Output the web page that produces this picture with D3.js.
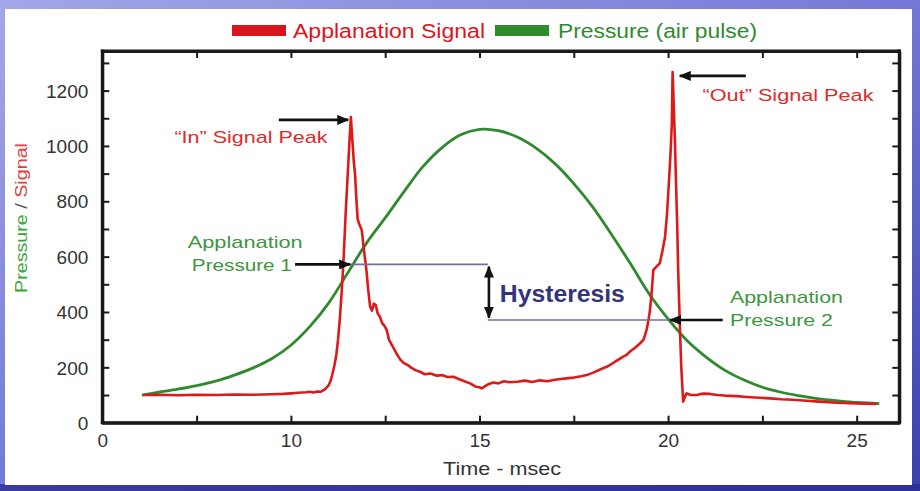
<!DOCTYPE html>
<html>
<head>
<meta charset="utf-8">
<script src="https://cdn.jsdelivr.net/npm/d3@7"></script>
<style>
  html, body { margin: 0; padding: 0; background: #fff; }
  svg { display: block; }
  text { font-family: "Liberation Sans", Arial, sans-serif; }
</style>
</head>
<body>
<svg id="chart" width="920" height="491"></svg>
<script>
// ---------------- DATA ----------------
const seriesNames = ["Applanation Signal", "Pressure (air pulse)"];

// Pressure (air pulse) – green
const pressureTime = [6.05, 6.5, 7.0, 7.5, 8.0, 8.5, 9.0, 9.5, 10.0, 10.5, 11.0, 11.5, 12.0, 12.5, 13.0, 13.5,
  14.0, 14.5, 15.0, 15.5, 16.0, 16.5, 17.0, 17.5, 18.0, 18.5, 19.0, 19.5, 20.0, 20.5, 21.0, 21.5, 22.0, 22.5,
  23.0, 23.5, 24.0, 24.5, 25.0, 25.6];
const pressureValue = [100, 110, 121, 134, 150, 172, 198, 232, 280, 347, 432, 540, 648, 740, 835, 925,
  993, 1040, 1060, 1055, 1032, 992, 936, 864, 780, 680, 575, 465, 375, 297, 238, 190, 155, 128,
  110, 97, 86, 79, 73, 69];

// Applanation Signal – red
const signalTime = [6.09, 6.5, 7.0, 7.5, 8.0, 8.5, 9.0, 9.5, 9.8, 10.0, 10.2, 10.4, 10.5, 10.6, 10.7, 10.8,
  10.9, 11.0, 11.05, 11.1, 11.15, 11.2, 11.25, 11.3, 11.35, 11.4, 11.45, 11.5, 11.55, 11.59, 11.63, 11.67,
  11.70, 11.74, 11.77, 11.82, 11.88, 11.94, 12.0, 12.05, 12.10, 12.15, 12.2, 12.25, 12.3, 12.36, 12.42,
  12.48, 12.54, 12.6, 12.66, 12.72, 12.8, 12.9, 13.0, 13.1, 13.2, 13.3, 13.42, 13.55, 13.7, 13.87, 14.0,
  14.15, 14.31, 14.45, 14.6, 14.75, 14.9, 15.0, 15.06, 15.15, 15.25, 15.37, 15.5, 15.65, 15.8, 16.0, 16.2,
  16.4, 16.6, 16.8, 16.96, 17.1, 17.3, 17.5, 17.7, 17.84, 18.0, 18.2, 18.37, 18.5, 18.65, 18.8, 18.9, 19.0,
  19.1, 19.2, 19.26, 19.35, 19.43, 19.48, 19.52, 19.57, 19.61, 19.7, 19.78, 19.85, 19.92, 19.97, 20.01,
  20.06, 20.10, 20.12, 20.15, 20.18, 20.21, 20.24, 20.27, 20.31, 20.35, 20.40, 20.45, 20.49, 20.6, 20.76,
  20.9, 21.11, 21.3, 21.5, 21.82, 22.0, 22.3, 22.7, 23.0, 23.3, 23.58, 24.0, 24.47, 25.0, 25.53];
const signalValue = [100, 101, 99, 101, 100, 102, 101, 103, 104, 106, 108, 110, 112, 109, 113, 112,
  120, 135, 150, 175, 205, 240, 300, 380, 480, 600, 750, 880, 1010, 1104, 1020, 940,
  900, 800, 735, 715, 695, 620, 555, 480, 420, 405, 430, 425, 395, 383, 360,
  350, 335, 300, 285, 270, 250, 228, 215, 208, 198, 190, 184, 175, 178, 170, 172,
  165, 166, 158, 150, 142, 130, 128, 124, 132, 140, 145, 142, 150, 146, 148, 152,
  147, 153, 150, 154, 157, 160, 163, 168, 172, 180, 192, 202, 212, 225, 238, 245, 258,
  268, 280, 287, 300, 335, 370, 407, 480, 552, 565, 576, 620, 672, 750, 841,
  960, 1082, 1267, 1150, 1022, 870, 721, 540, 359, 200, 76, 95, 106, 100, 100,
  105, 104, 100, 98, 96, 94, 91, 88, 85, 83, 80, 76, 72, 70, 68];

// Axes
const xTickValues = [5, 7.5, 10, 12.5, 15, 17.5, 20, 22.5, 25];
const xTickLabels = ["0", "", "10", "", "15", "", "20", "", "25"];
const yTickValues = [0, 100, 200, 300, 400, 500, 600, 700, 800, 900, 1000, 1100, 1200, 1300];
const yTickLabels = ["0", "", "200", "", "400", "", "600", "", "800", "", "1000", "", "1200", ""];

// Hysteresis levels (applanation pressure 1 and 2)
const hysteresisLevels = [572, 371];

// ---------------- DRAW ----------------
const svg = d3.select("#chart");
const W = 920, H = 491;

// slide background
const defs = svg.append("defs");
const bg = defs.append("linearGradient").attr("id", "bg")
  .attr("x1", "0").attr("y1", "0").attr("x2", "1").attr("y2", "1");
bg.append("stop").attr("offset", "0").attr("stop-color", "#a3a7e8");
bg.append("stop").attr("offset", "0.5").attr("stop-color", "#7479d6");
bg.append("stop").attr("offset", "1").attr("stop-color", "#3b3fae");
svg.append("rect").attr("width", W).attr("height", H).attr("fill", "url(#bg)");
const bgb = defs.append("linearGradient").attr("id", "bgb")
  .attr("x1", "0").attr("y1", "0").attr("x2", "1").attr("y2", "0");
bgb.append("stop").attr("offset", "0").attr("stop-color", "#3a3aa6");
bgb.append("stop").attr("offset", "1").attr("stop-color", "#2c2f9c");
svg.append("rect").attr("x", 0).attr("y", 484).attr("width", W).attr("height", 7).attr("fill", "url(#bgb)");
svg.append("rect").attr("x", 5).attr("y", 9).attr("width", 907).attr("height", 476).attr("fill", "#ffffff");

// arrow markers
defs.append("marker").attr("id", "arrow")
  .attr("viewBox", "0 0 12 10").attr("refX", 11).attr("refY", 5)
  .attr("markerWidth", 12).attr("markerHeight", 10)
  .attr("markerUnits", "userSpaceOnUse").attr("orient", "auto-start-reverse")
  .append("path").attr("d", "M0,0 L12,5 L0,10 Z").attr("fill", "#111");

const plot = { left: 102.3, right: 899.3, top: 51, bottom: 422.7 };
const x = d3.scaleLinear().domain([5, 26.13]).range([plot.left, plot.right]);
const y = d3.scaleLinear().domain([0, 1343]).range([plot.bottom, plot.top]);

const axisColor = "#1a1a1a";

// axes (ticks pointing inward)
const gx = svg.append("g").attr("transform", `translate(0,${plot.bottom})`)
  .call(d3.axisBottom(x).tickValues(xTickValues).tickSizeInner(-7).tickSizeOuter(0).tickPadding(11)
    .tickFormat((d, i) => xTickLabels[i]));
const gxt = svg.append("g").attr("transform", `translate(0,${plot.top})`)
  .call(d3.axisTop(x).tickValues(xTickValues).tickSizeInner(-7).tickSizeOuter(0).tickFormat(""));
const gy = svg.append("g").attr("transform", `translate(${plot.left},0)`)
  .call(d3.axisLeft(y).tickValues(yTickValues).tickSizeInner(-7).tickSizeOuter(0).tickPadding(14)
    .tickFormat((d, i) => yTickLabels[i]));
const gyr = svg.append("g").attr("transform", `translate(${plot.right},0)`)
  .call(d3.axisRight(y).tickValues(yTickValues).tickSizeInner(-7).tickSizeOuter(0).tickFormat(""));

[gx, gxt, gy, gyr].forEach(g => {
  g.select(".domain").attr("stroke", axisColor).attr("stroke-width", 3).attr("fill", "none");
  g.selectAll(".tick line").attr("stroke", axisColor).attr("stroke-width", 2);
  g.selectAll(".tick text").attr("fill", "#333").attr("font-size", 19)
    .attr("font-family", "'Liberation Sans', Arial, sans-serif");
});
gy.selectAll(".tick text").attr("dy", "0.35em");

// frame drawn as filled bars on top of the axes
const fw = 3;
const frameBars = [
  { x: plot.left - fw / 2, y: plot.top - fw / 2, w: plot.right - plot.left + fw, h: fw },
  { x: plot.left - fw / 2, y: plot.bottom - fw / 2, w: plot.right - plot.left + fw, h: fw },
  { x: plot.left - fw / 2, y: plot.top - fw / 2, w: fw, h: plot.bottom - plot.top + fw },
  { x: plot.right - fw / 2, y: plot.top - fw / 2, w: fw, h: plot.bottom - plot.top + fw }
];
svg.append("g").attr("class", "frame").selectAll("rect").data(frameBars).join("rect")
  .attr("x", d => d.x).attr("y", d => d.y).attr("width", d => d.w).attr("height", d => d.h)
  .attr("fill", axisColor);

// axis titles
svg.append("text").attr("x", 502).attr("y", 475).attr("text-anchor", "middle")
  .attr("font-size", 19).attr("fill", "#333").attr("textLength", 118)
  .attr("lengthAdjust", "spacingAndGlyphs").text("Time - msec");

const yt = svg.append("text").attr("transform", "translate(27,218) rotate(-90)")
  .attr("text-anchor", "middle").attr("font-size", 17).attr("textLength", 150)
  .attr("lengthAdjust", "spacingAndGlyphs");
yt.append("tspan").attr("fill", "#3aa53a").text("Pressure ");
yt.append("tspan").attr("fill", "#555").text("/ ");
yt.append("tspan").attr("fill", "#e04040").text("Signal");

// lines
const pressureData = pressureTime.map((t, i) => [t, pressureValue[i]]);
const signalData = signalTime.map((t, i) => [t, signalValue[i]]);

svg.append("path").datum(pressureData)
  .attr("d", d3.line().x(d => x(d[0])).y(d => y(d[1])).curve(d3.curveCatmullRom.alpha(0.5)))
  .attr("fill", "none").attr("stroke", "#2f8a2f").attr("stroke-width", 2.8)
  .attr("stroke-linejoin", "round");
svg.append("path").datum(signalData)
  .attr("d", d3.line().x(d => x(d[0])).y(d => y(d[1])))
  .attr("fill", "none").attr("stroke", "#dd1a1a").attr("stroke-width", 2.6)
  .attr("stroke-linejoin", "round");

// legend
const legend = [
  { name: seriesNames[0], color: "#d9141c", textColor: "#e0141a", sx: 232, tx: 293, tw: 192 },
  { name: seriesNames[1], color: "#2e8b2e", textColor: "#2e8b2e", sx: 495, tx: 558, tw: 199 }
];
legend.forEach(l => {
  svg.append("rect").attr("x", l.sx).attr("y", 25).attr("width", 54).attr("height", 11).attr("fill", l.color);
  svg.append("text").attr("x", l.tx).attr("y", 38).attr("font-size", 20).attr("fill", l.textColor)
    .attr("textLength", l.tw).attr("lengthAdjust", "spacingAndGlyphs").text(l.name);
});

// annotations
function arrow(t0, v0, t1, v1, both) {
  const p = svg.append("line")
    .attr("x1", x(t0)).attr("y1", y(v0)).attr("x2", x(t1)).attr("y2", y(v1))
    .attr("stroke", "#111").attr("stroke-width", 2.6)
    .attr("marker-end", "url(#arrow)");
  if (both) p.attr("marker-start", "url(#arrow)");
}
function label(t, v, str, opts) {
  svg.append("text").attr("x", x(t)).attr("y", y(v))
    .attr("text-anchor", opts.anchor || "start")
    .attr("font-size", opts.size || 17)
    .attr("font-weight", opts.weight || "normal")
    .attr("fill", opts.color)
    .attr("textLength", opts.width).attr("lengthAdjust", "spacingAndGlyphs")
    .text(str);
}

// In peak
arrow(9.68, 1094, 11.52, 1094);
label(8.94, 1011, "\u201CIn\u201D Signal Peak", { anchor: "middle", color: "#e02a2a", width: 153 });
// Out peak
arrow(22.06, 1253, 20.31, 1253);
label(23.18, 1163, "\u201COut\u201D Signal Peak", { anchor: "middle", color: "#e02a2a", width: 171 });

// hysteresis guide lines
svg.append("line").attr("x1", x(11.57)).attr("x2", x(15.22))
  .attr("y1", y(hysteresisLevels[0])).attr("y2", y(hysteresisLevels[0]))
  .attr("stroke", "#6f6fa0").attr("stroke-width", 1.6);
svg.append("line").attr("x1", x(15.22)).attr("x2", x(20.05))
  .attr("y1", y(hysteresisLevels[1])).attr("y2", y(hysteresisLevels[1]))
  .attr("stroke", "#6f6fa0").attr("stroke-width", 1.6);
arrow(15.25, hysteresisLevels[0] - 8, 15.25, hysteresisLevels[1] + 8, true);
label(15.54, 436, "Hysteresis", { color: "#34347e", size: 23, weight: "bold", width: 125 });

// Applanation pressure 1
arrow(10.11, hysteresisLevels[0], 11.57, hysteresisLevels[0]);
label(8.79, 631, "Applanation", { anchor: "middle", color: "#3e963e", width: 115 });
label(8.70, 548, "Pressure 1", { anchor: "middle", color: "#3e963e", width: 100 });

// Applanation pressure 2
arrow(21.45, hysteresisLevels[1], 20.05, hysteresisLevels[1]);
label(21.64, 432, "Applanation", { color: "#3e963e", width: 113 });
label(21.64, 349, "Pressure 2", { color: "#3e963e", width: 103 });
</script>
</body>
</html>
